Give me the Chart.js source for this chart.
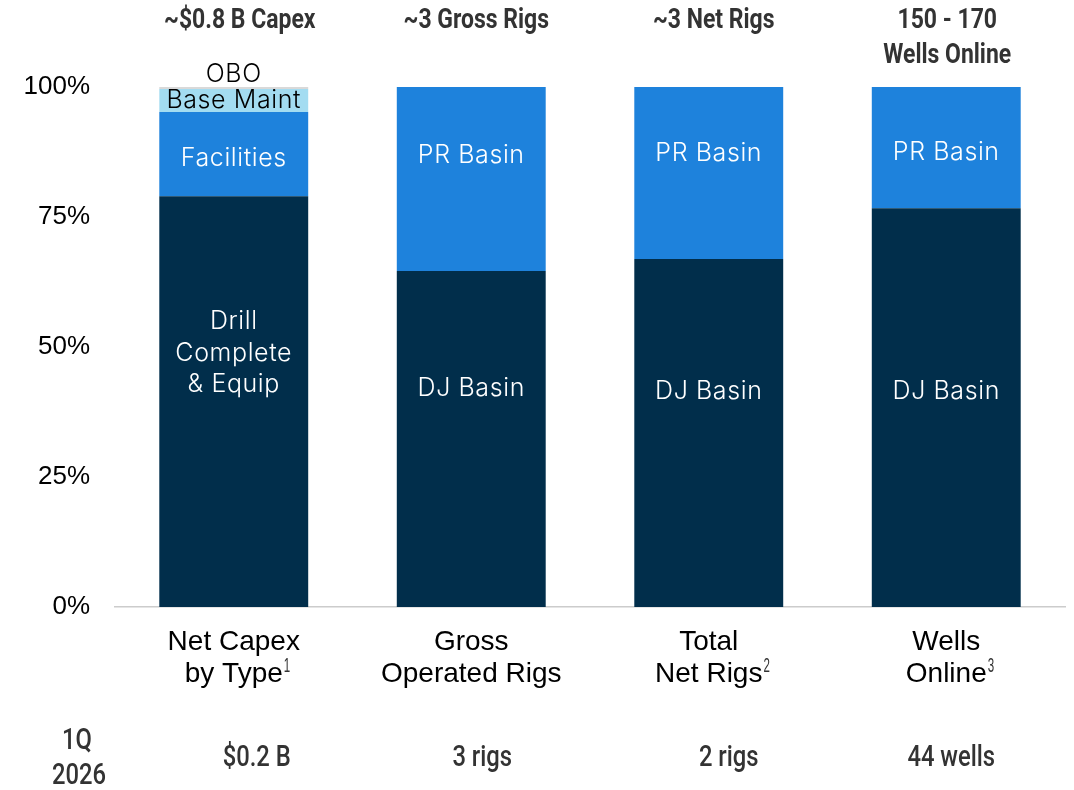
<!DOCTYPE html>
<html>
<head>
<meta charset="utf-8">
<script src="https://cdn.jsdelivr.net/npm/chart.js@4.4.0/dist/chart.umd.min.js"></script>
<style>
  html, body { margin: 0; padding: 0; background: #fff; }
  #wrap { width: 1074px; height: 790px; }
</style>
</head>
<body>
<div id="wrap"><canvas id="chart"></canvas></div>
<script>
const categories = [["Net Capex", "by Type"], ["Gross", "Operated Rigs"], ["Total", "Net Rigs"], ["Wells", "Online"]];
const footnotes = ["1", "", "2", "3"];

// share of each bar, %
const baseValues = [79.0, 64.6, 66.9, 76.7];
const upperValues = [16.2, 35.4, 33.1, 23.3];
const maintValues = [4.4, 0, 0, 0];
const oboValues = [0.4, 0, 0, 0];

const baseLabels = [["Drill", "Complete", "& Equip"], ["DJ Basin"], ["DJ Basin"], ["DJ Basin"]];
const upperLabels = [["Facilities"], ["PR Basin"], ["PR Basin"], ["PR Basin"]];

const headers = [["~$0.8 B Capex"], ["~3 Gross Rigs"], ["~3 Net Rigs"], ["150 - 170", "Wells Online"]];
const quarterTitle = ["1Q", "2026"];
const quarterValues = ["$0.2 B", "3 rigs", "2 rigs", "44 wells"];

const yTicks = [0, 25, 50, 75, 100];

const NAVY = "#012e4b";
const BLUE = "#1e82dc";
const LIGHT = "#a3dcf1";
const GREY = "#d9d9d9";

// where the in-bar text sits, in axis units
const baseLabelAt = [48.8, 42.0, 41.5, 41.5];
const upperLabelAt = [86.2, 86.8, 87.3, 87.4];
// headline and quarter figures sit a little right of the bar centre
const headerShift = [6, 5, 5, 1];
const quarterShift = [23, 11, 20, 5];

function condensedText(ctx, text, x, y, size, weight, squeeze) {
  ctx.save();
  ctx.font = weight + " " + size + "px Roboto";
  ctx.fillStyle = "#333333";
  ctx.textAlign = "center";
  ctx.textBaseline = "middle";
  ctx.translate(x, y);
  ctx.scale(squeeze, 1);
  ctx.fillText(text, 0, 0);
  ctx.restore();
}

const annotations = {
  id: "annotations",
  afterDatasetsDraw(chart) {
    const ctx = chart.ctx;
    const x = chart.scales.x;
    const y = chart.scales.y;

    // text inside the bars
    ctx.save();
    ctx.textAlign = "center";
    ctx.textBaseline = "middle";
    ctx.font = "300 25px Inter";
    ctx.letterSpacing = "0.6px";
    ctx.fillStyle = "#ffffff";
    categories.forEach((c, i) => {
      const cx = x.getPixelForValue(i);
      const bl = baseLabels[i];
      const by = y.getPixelForValue(baseLabelAt[i]);
      bl.forEach((t, j) => ctx.fillText(t, cx, by + (j - (bl.length - 1) / 2) * 31.5));
      const ul = upperLabels[i];
      const uy = y.getPixelForValue(upperLabelAt[i]);
      ul.forEach((t, j) => ctx.fillText(t, cx, uy + (j - (ul.length - 1) / 2) * 31.5));
    });
    const c0 = x.getPixelForValue(0);
    ctx.fillStyle = "#000000";
    const maintTop = baseValues[0] + upperValues[0];
    ctx.fillText("Base Maint", c0, y.getPixelForValue(maintTop + maintValues[0] / 2));
    ctx.fillText("OBO", c0, y.getPixelForValue(102.5));
    ctx.letterSpacing = "0px";

    // footnote marks on the category labels
    ctx.font = "28px 'Liberation Sans'";
    const lineY = 672;
    categories.forEach((c, i) => {
      if (!footnotes[i]) return;
      const w = ctx.measureText(c[1]).width;
      ctx.save();
      ctx.font = "21px 'Liberation Sans'";
      ctx.fillStyle = "#333333";
      ctx.textAlign = "left";
      ctx.translate(x.getPixelForValue(i) + w / 2 + 1, lineY - 6);
      ctx.scale(0.55, 1);
      ctx.fillText(footnotes[i], 0, 0);
      ctx.restore();
    });
    ctx.restore();

    // headline above each bar and the quarter row below
    headers.forEach((h, i) => {
      const cx = x.getPixelForValue(i) + headerShift[i];
      h.forEach((t, j) => condensedText(ctx, t, cx, 21 + j * 35, 28, "bold", 0.82));
      condensedText(ctx, quarterValues[i], x.getPixelForValue(i) + quarterShift[i], 759, 29, "500", 0.82);
    });
    condensedText(ctx, quarterTitle[0], 77, 742, 29, "500", 0.82);
    condensedText(ctx, quarterTitle[1], 79, 777, 29, "500", 0.82);
  }
};

new Chart(document.getElementById("chart"), {
  type: "bar",
  data: {
    labels: categories,
    datasets: [
      { label: "base", data: baseValues, backgroundColor: NAVY },
      { label: "upper", data: upperValues, backgroundColor: BLUE },
      { label: "maint", data: maintValues, backgroundColor: LIGHT },
      { label: "obo", data: oboValues, backgroundColor: GREY }
    ]
  },
  options: {
    responsive: true,
    maintainAspectRatio: false,
    animation: false,
    categoryPercentage: 1,
    barPercentage: 0.627,
    layout: { padding: { top: 87, right: 9, bottom: 63, left: 0 } },
    plugins: { legend: { display: false }, tooltip: { enabled: false } },
    scales: {
      x: {
        stacked: true,
        grid: { display: false, drawTicks: false },
        border: { display: true, color: "#cccccc", width: 1.5 },
        ticks: {
          color: "#000000",
          padding: 19,
          maxRotation: 0,
          font: { family: "'Liberation Sans'", size: 28, lineHeight: 1.14 }
        },
        afterFit: (s) => { s.height = 120; }
      },
      y: {
        stacked: true,
        min: 0,
        max: 100,
        grid: { display: false, drawTicks: false },
        border: { display: false },
        afterBuildTicks: (s) => { s.ticks = yTicks.map((v) => ({ value: v })); },
        ticks: {
          color: "#000000",
          padding: 25,
          font: { family: "'Liberation Sans'", size: 26 },
          callback: (v) => v + "%"
        },
        afterFit: (s) => { s.width = 115; }
      }
    }
  },
  plugins: [annotations]
});
</script>
</body>
</html>
